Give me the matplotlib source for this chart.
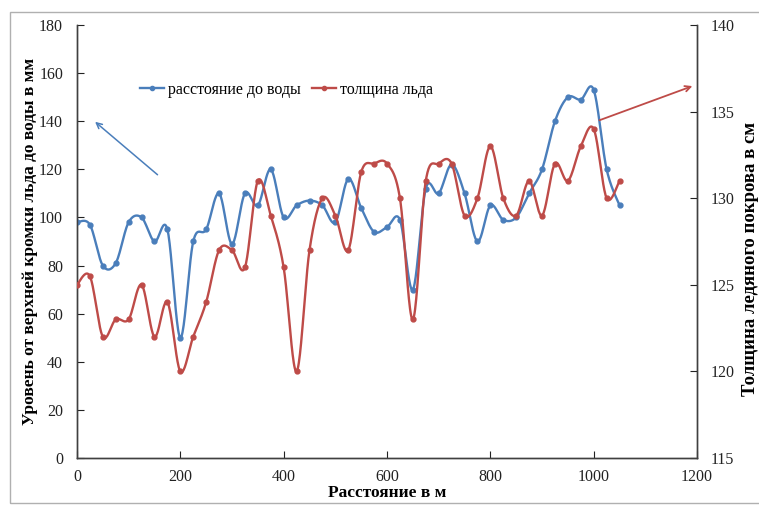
import numpy as np
import matplotlib
matplotlib.use("Agg")
import matplotlib.pyplot as plt
from matplotlib.patches import Rectangle

plt.rcParams['font.family'] = ['Liberation Serif', 'DejaVu Serif']

distance = [0, 25, 50, 75, 100, 125, 150, 175, 200, 225, 250, 275, 300, 325, 350,
            375, 400, 425, 450, 475, 500, 525, 550, 575, 600, 625, 650, 675, 700,
            725, 750, 775, 800, 825, 850, 875, 900, 925, 950, 975, 1000, 1025, 1050]

water_level = [98, 97, 80, 81, 98, 100, 90, 95, 50, 90, 95, 110, 89, 110, 105,
               120, 100, 105, 107, 105, 98, 116, 104, 94, 96, 99, 70, 112, 110,
               122, 110, 90, 105, 99, 100, 110, 120, 140, 150, 149, 153, 120, 105]

ice_thickness = [125, 125.5, 122, 123, 123, 125, 122, 124, 120, 122, 124, 127, 127, 126, 131,
                 129, 126, 120, 127, 130, 129, 127, 131.5, 132, 132, 130, 123, 131, 132,
                 132, 129, 130, 133, 130, 129, 131, 129, 132, 131, 133, 134, 130, 131]

label_water = "расстояние до воды"
label_ice = "толщина льда"

blue = "#4A7EBB"
red = "#BE4B48"


def smooth(x, y, sx, sy, n=24):
    # excel-like smoothed line (catmull-rom bezier in screen-ish units)
    px = np.asarray(x, float) * sx
    py = np.asarray(y, float) * sy
    P = np.column_stack([px, py])
    P = np.vstack([P[0], P, P[-1]])
    out = []
    t = np.linspace(0, 1, n)[:, None]
    for i in range(1, len(P) - 2):
        p0, p1, p2, p3 = P[i - 1], P[i], P[i + 1], P[i + 2]
        b1 = p1 + (p2 - p0) / 6
        b2 = p2 - (p3 - p1) / 6
        seg = ((1 - t) ** 3) * p1 + 3 * ((1 - t) ** 2) * t * b1 + 3 * (1 - t) * t ** 2 * b2 + t ** 3 * p2
        out.append(seg if i == 1 else seg[1:])
    out = np.vstack(out)
    return out[:, 0] / sx, out[:, 1] / sy


fig = plt.figure(figsize=(7.59, 5.05), dpi=100)
ax1 = fig.add_axes([0.1014, 0.0931, 0.8170, 0.8574])
ax2 = ax1.twinx()

sx = 620 / 1200
bx, by = smooth(distance, water_level, sx, 433 / 180)
ax1.plot(bx, by, color=blue, lw=1.7, zorder=3)
ax1.plot(distance, water_level, "o", color=blue, ms=3.5, zorder=4)

iy = np.array(ice_thickness) - 115
rx, ry = smooth(distance, iy, sx, 433 / 25)
ax2.plot(rx, ry + 115, color=red, lw=1.7, zorder=3)
ax2.plot(distance, ice_thickness, "o", color=red, ms=3.5, zorder=4)

ax1.set_xlim(0, 1200)
ax1.set_ylim(0, 180)
ax2.set_ylim(115, 140)
ax1.set_xticks(range(0, 1201, 200))
ax1.set_yticks(range(0, 181, 20))
ax2.set_yticks(range(115, 141, 5))

for a in (ax1, ax2):
    a.spines['top'].set_visible(False)
    for s in a.spines.values():
        s.set_color("#404040")
        s.set_linewidth(1.0)
    a.tick_params(direction="in", length=5, labelsize=11.5, colors="#222222")
ax1.tick_params(axis="x", pad=8)
ax1.tick_params(axis="y", pad=10)
ax2.tick_params(axis="y", pad=10)

ax1.set_xlabel("Расстояние в м", fontsize=12.5, fontweight="bold", labelpad=0)
ax1.set_ylabel("Уровень от верхней кромки льда до воды в мм", fontsize=12.5, fontweight="bold", labelpad=1)
ax2.set_ylabel("Толщина ледяного покрова в см", fontsize=13.5, fontweight="bold", rotation=90)
ax2.yaxis.set_label_coords(1.072, 0.46)

h1 = ax1.plot([], [], "-o", color=blue, lw=1.7, ms=3)[0]
h2 = ax1.plot([], [], "-o", color=red, lw=1.7, ms=3)[0]
fig.legend([h1, h2], [label_water, label_ice], loc="center", bbox_to_anchor=(0.378, 0.822),
           ncol=2, frameon=False, fontsize=11.5, handlelength=1.5, handletextpad=0.25,
           columnspacing=0.7)

ax1.annotate("", xy=(31, 140.5), xytext=(160, 117), xycoords="data",
             arrowprops=dict(arrowstyle="->", color=blue, lw=1.1))
ax1.annotate("", xy=(1196, 155), xytext=(1006, 140), xycoords="data",
             arrowprops=dict(arrowstyle="->", color=red, lw=1.3), annotation_clip=False)

fig.patches.append(Rectangle((10 / 759, 1 - 503 / 505), 752 / 759, 491 / 505,
                             transform=fig.transFigure, fill=False, edgecolor="#b0b0b0", lw=1))

fig.savefig("out.png", dpi=100)
